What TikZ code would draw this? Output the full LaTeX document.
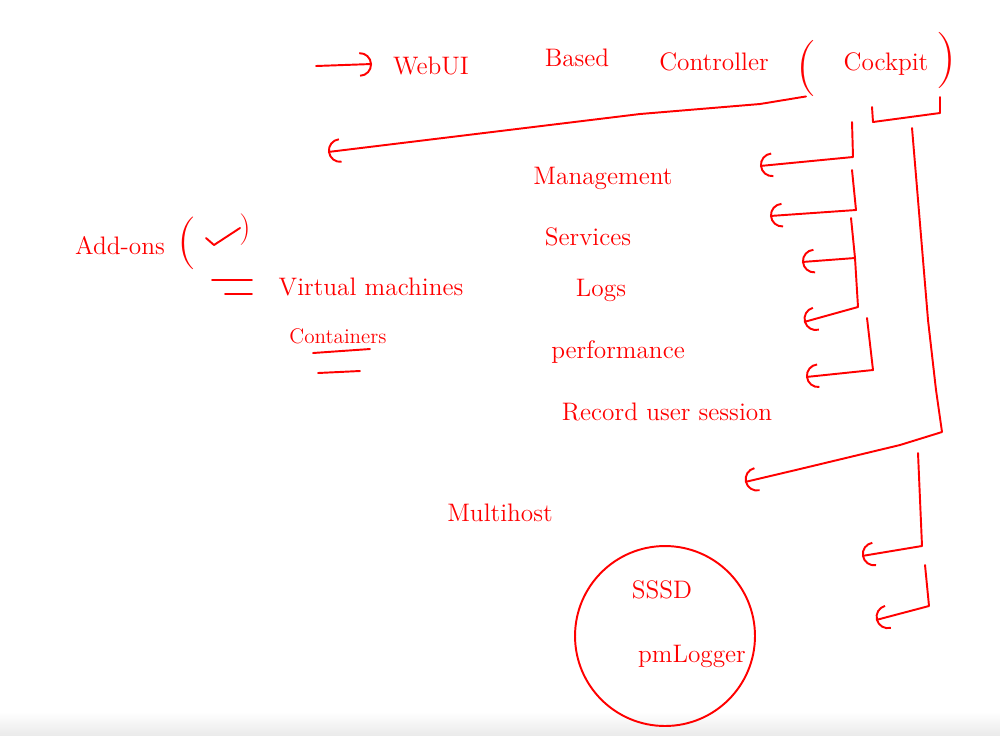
\documentclass[tikz,border=0pt]{standalone}
\usetikzlibrary{arrows.meta}
\begin{document}
\begin{tikzpicture}[x=0.02cm,y=-0.02cm,
  ink/.style={red,line width=1.1pt,line cap=round,line join=round},
  hook/.style={ink,-{Arc Barb[length=7pt,width=14pt]}},
  hand/.style={red,font=\Large,inner sep=0pt},
  paren/.style={red,inner sep=0pt,font=\fontsize{32}{32}\selectfont}]
\useasboundingbox (0,0) rectangle (1000,735);
\shade[top color=white,bottom color=black!8,draw=none] (0,712) rectangle (1000,735);%
% heading
\coordinate (headS) at (316,66);%
\coordinate (headE) at (372,64);%
\node[hand] (webui) at (431,66) {WebUI};%
\node[hand] (based) at (577,58) {Based};%
\node[hand] (ctrl) at (714,62) {Controller};%
\node[paren] (lpar) at (806,68) {(};%
\node[hand] (cockpit) at (886,64) {Cockpit};%
\node[paren] (rpar) at (946,60) {)};%
\draw[hook] (headS) -- (headE);%
% bracket under the heading
\draw[ink] (872,107) -- (873,122) -- (940,113) -- (940,97);%
% add-ons
\coordinate (addTip) at (328,152);%
\draw[hook] (lpar.south) -- (760,104) -- (640,114) -- (addTip);%
\node[hand] (addons) at (120,246) {Add-ons};%
\node[paren,font=\fontsize{30}{30}\selectfont] (alpar) at (187,243) {(};%
\node[paren,font=\fontsize{18}{18}\selectfont] (arpar) at (245,230) {)};%
\draw[ink] (206,238) -- (214,245) -- (240,228);%
\draw[ink] (212,280) -- (252,280);%
\draw[ink] (225,294) -- (252,294);%
\node[hand] (vm) at (371,287) {Virtual machines};%
\node[hand,font=\large] (cont) at (338,336) {Containers};%
\draw[ink] (313,353) -- (370,349);%
\draw[ink] (318,373) -- (360,371);%
% features
\node[hand] (mgmt) at (603,178) {Management};%
\node[hand] (serv) at (588,237) {Services};%
\node[hand] (logs) at (601,290) {Logs};%
\node[hand] (perf) at (618,352) {performance};%
\node[hand] (rec) at (667,412) {Record user session};%
\coordinate (mgmtTip) at (760,166);%
\coordinate (servTip) at (770,216);%
\coordinate (logsTip) at (802,262);%
\coordinate (perfTip) at (804,322);%
\coordinate (recTip) at (806,377);%
\draw[hook] (852,122) -- (853,157) -- (mgmtTip);%
\draw[hook] (852,170) -- (856,210) -- (servTip);%
\draw[hook] (851,218) -- (855,258) -- (logsTip);%
\draw[hook] (855,258) -- (858,307) -- (perfTip);%
\draw[hook] (867,318) -- (873,370) -- (recTip);%
% multihost
\coordinate (multiTip) at (745,482);%
\draw[hook] (912,128) -- (928,320) -- (936,390) -- (942,432) -- (900,445) -- (800,469) -- (multiTip);%
\node[hand] (multi) at (500,513) {Multihost};%
\node[draw=red,line width=1.1pt,circle,minimum size=3.6cm] (ring) at (665,636) {};%
\node[hand] (sssd) at (662,590) {SSSD};%
\node[hand] (pmlog) at (692,656) {pmLogger};%
\coordinate (lowTipA) at (862,556);%
\coordinate (lowTipB) at (876,620);%
\draw[hook] (918,453) -- (922,546) -- (lowTipA);%
\draw[hook] (925,565) -- (929,606) -- (lowTipB);%
\end{tikzpicture}
\end{document}
